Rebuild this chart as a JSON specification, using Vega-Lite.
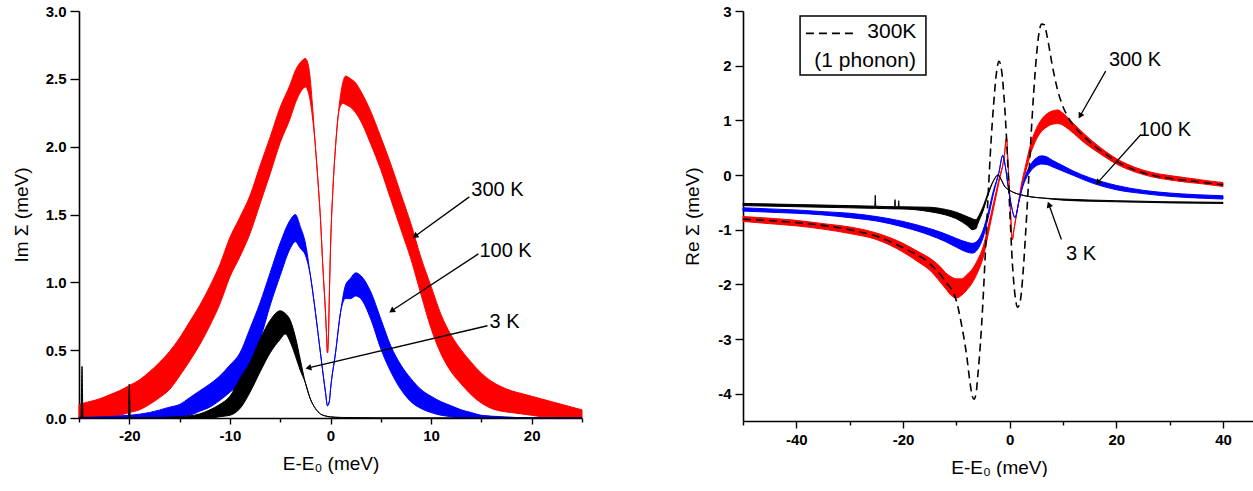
{
  "$schema": "https://vega.github.io/schema/vega-lite/v6.json",
  "padding": {"left": 12, "top": 4, "right": 0, "bottom": 0},
  "background": "white",
  "spacing": 99,
  "config": {
    "locale": {"number": {"decimal": ".", "thousands": ",", "grouping": [3], "currency": ["$", ""], "minus": "-"}},
    "view": {"stroke": null},
    "font": "Liberation Sans",
    "axis": {
      "grid": false, "domainColor": "#000", "domainWidth": 1.6, "tickColor": "#000", "tickWidth": 1.4,
      "labelFont": "Liberation Sans", "labelFontSize": 15, "labelFontWeight": "bold", "labelColor": "#000",
      "titleFont": "Liberation Sans", "titleFontSize": 19, "titleFontWeight": "normal", "titleColor": "#000"
    },
    "axisX": {"labelPadding": 4, "titlePadding": 11},
    "axisY": {"labelPadding": 4}
  },
  "datasets": {
    "im300": [
      {"E": -25, "v": 0.03, "lo": 0, "hi": 0.1}, {"E": -24, "v": 0.04, "lo": 0, "hi": 0.12},
      {"E": -23, "v": 0.05, "lo": 0.01, "hi": 0.14}, {"E": -22, "v": 0.07, "lo": 0.01, "hi": 0.17},
      {"E": -21, "v": 0.09, "lo": 0.02, "hi": 0.2}, {"E": -20, "v": 0.12, "lo": 0.04, "hi": 0.24},
      {"E": -19, "v": 0.16, "lo": 0.06, "hi": 0.28}, {"E": -18, "v": 0.21, "lo": 0.1, "hi": 0.34},
      {"E": -17, "v": 0.27, "lo": 0.15, "hi": 0.41}, {"E": -16, "v": 0.35, "lo": 0.21, "hi": 0.49},
      {"E": -15, "v": 0.45, "lo": 0.31, "hi": 0.59}, {"E": -14, "v": 0.56, "lo": 0.42, "hi": 0.71},
      {"E": -13, "v": 0.68, "lo": 0.54, "hi": 0.83}, {"E": -12, "v": 0.82, "lo": 0.68, "hi": 0.97},
      {"E": -11, "v": 0.98, "lo": 0.84, "hi": 1.13}, {"E": -10, "v": 1.18, "lo": 1.04, "hi": 1.33},
      {"E": -9, "v": 1.34, "lo": 1.19, "hi": 1.48}, {"E": -8, "v": 1.5, "lo": 1.36, "hi": 1.64},
      {"E": -7, "v": 1.72, "lo": 1.58, "hi": 1.86}, {"E": -6, "v": 1.93, "lo": 1.8, "hi": 2.07},
      {"E": -5, "v": 2.16, "lo": 2.03, "hi": 2.29}, {"E": -4, "v": 2.34, "lo": 2.21, "hi": 2.46},
      {"E": -3.5, "v": 2.44, "lo": 2.32, "hi": 2.56}, {"E": -3, "v": 2.51, "lo": 2.4, "hi": 2.62},
      {"E": -2.5, "v": 2.54, "lo": 2.44, "hi": 2.65}, {"E": -2.2, "v": 2.49, "lo": 2.4, "hi": 2.6},
      {"E": -2, "v": 2.4, "lo": 2.33, "hi": 2.49}, {"E": -1.75, "v": 2.22, "lo": 2.19, "hi": 2.26},
      {"E": -1.5, "v": 2.0, "lo": 2.0, "hi": 2.0}, {"E": -1.25, "v": 1.75, "lo": 1.75, "hi": 1.75},
      {"E": -1, "v": 1.47, "lo": 1.47, "hi": 1.47}, {"E": -0.75, "v": 1.1, "lo": 1.1, "hi": 1.1},
      {"E": -0.5, "v": 0.78, "lo": 0.78, "hi": 0.78}, {"E": -0.4, "v": 0.62, "lo": 0.62, "hi": 0.62},
      {"E": -0.3, "v": 0.48, "lo": 0.48, "hi": 0.48}, {"E": -0.2, "v": 0.62, "lo": 0.62, "hi": 0.62},
      {"E": -0.1, "v": 0.95, "lo": 0.95, "hi": 0.95}, {"E": 0, "v": 1.25, "lo": 1.25, "hi": 1.25},
      {"E": 0.25, "v": 1.7, "lo": 1.7, "hi": 1.7}, {"E": 0.5, "v": 2.0, "lo": 2.0, "hi": 2.0},
      {"E": 0.75, "v": 2.22, "lo": 2.22, "hi": 2.22}, {"E": 1, "v": 2.34, "lo": 2.3, "hi": 2.38},
      {"E": 1.25, "v": 2.4, "lo": 2.32, "hi": 2.48}, {"E": 1.5, "v": 2.42, "lo": 2.31, "hi": 2.52},
      {"E": 2, "v": 2.4, "lo": 2.29, "hi": 2.5}, {"E": 2.5, "v": 2.36, "lo": 2.25, "hi": 2.47},
      {"E": 3, "v": 2.3, "lo": 2.19, "hi": 2.41}, {"E": 4, "v": 2.14, "lo": 2.02, "hi": 2.26},
      {"E": 5, "v": 1.95, "lo": 1.83, "hi": 2.07}, {"E": 6, "v": 1.74, "lo": 1.61, "hi": 1.87},
      {"E": 7, "v": 1.52, "lo": 1.39, "hi": 1.65}, {"E": 8, "v": 1.3, "lo": 1.17, "hi": 1.43},
      {"E": 9, "v": 1.05, "lo": 0.91, "hi": 1.18}, {"E": 10, "v": 0.82, "lo": 0.66, "hi": 0.97},
      {"E": 11, "v": 0.62, "lo": 0.47, "hi": 0.76}, {"E": 12, "v": 0.47, "lo": 0.34, "hi": 0.61},
      {"E": 13, "v": 0.36, "lo": 0.25, "hi": 0.5}, {"E": 14, "v": 0.28, "lo": 0.17, "hi": 0.41},
      {"E": 15, "v": 0.21, "lo": 0.11, "hi": 0.33}, {"E": 16, "v": 0.16, "lo": 0.07, "hi": 0.27},
      {"E": 17, "v": 0.13, "lo": 0.05, "hi": 0.23}, {"E": 18, "v": 0.11, "lo": 0.04, "hi": 0.2},
      {"E": 19, "v": 0.09, "lo": 0.03, "hi": 0.18}, {"E": 20, "v": 0.07, "lo": 0.02, "hi": 0.16},
      {"E": 21, "v": 0.06, "lo": 0.01, "hi": 0.14}, {"E": 22, "v": 0.05, "lo": 0.01, "hi": 0.12},
      {"E": 23, "v": 0.04, "lo": 0, "hi": 0.1}, {"E": 24, "v": 0.03, "lo": 0, "hi": 0.08},
      {"E": 25, "v": 0.02, "lo": 0, "hi": 0.06}
    ],
    "im100": [
      {"E": -25, "v": 0, "lo": 0, "hi": 0.005}, {"E": -20, "v": 0.005, "lo": 0, "hi": 0.02},
      {"E": -18, "v": 0.01, "lo": 0, "hi": 0.04}, {"E": -16, "v": 0.03, "lo": 0, "hi": 0.08},
      {"E": -15, "v": 0.05, "lo": 0.01, "hi": 0.1}, {"E": -14, "v": 0.08, "lo": 0.02, "hi": 0.15},
      {"E": -13, "v": 0.12, "lo": 0.05, "hi": 0.2}, {"E": -12, "v": 0.16, "lo": 0.08, "hi": 0.25},
      {"E": -11, "v": 0.22, "lo": 0.13, "hi": 0.31}, {"E": -10, "v": 0.29, "lo": 0.19, "hi": 0.39},
      {"E": -9, "v": 0.37, "lo": 0.26, "hi": 0.48}, {"E": -8, "v": 0.53, "lo": 0.41, "hi": 0.66},
      {"E": -7, "v": 0.72, "lo": 0.58, "hi": 0.85}, {"E": -6, "v": 0.95, "lo": 0.83, "hi": 1.07},
      {"E": -5, "v": 1.17, "lo": 1.05, "hi": 1.29}, {"E": -4, "v": 1.36, "lo": 1.25, "hi": 1.46},
      {"E": -3.5, "v": 1.4, "lo": 1.3, "hi": 1.5}, {"E": -3, "v": 1.33, "lo": 1.25, "hi": 1.41},
      {"E": -2.5, "v": 1.24, "lo": 1.2, "hi": 1.29}, {"E": -2, "v": 1.05, "lo": 1.05, "hi": 1.05},
      {"E": -1.5, "v": 0.78, "lo": 0.78, "hi": 0.78}, {"E": -1, "v": 0.48, "lo": 0.48, "hi": 0.48},
      {"E": -0.5, "v": 0.19, "lo": 0.19, "hi": 0.19}, {"E": -0.3, "v": 0.09, "lo": 0.09, "hi": 0.09},
      {"E": -0.1, "v": 0.13, "lo": 0.13, "hi": 0.13}, {"E": 0, "v": 0.21, "lo": 0.21, "hi": 0.21},
      {"E": 0.5, "v": 0.48, "lo": 0.48, "hi": 0.48}, {"E": 1, "v": 0.78, "lo": 0.78, "hi": 0.78},
      {"E": 1.5, "v": 0.93, "lo": 0.88, "hi": 0.98}, {"E": 2, "v": 0.96, "lo": 0.88, "hi": 1.03},
      {"E": 2.5, "v": 0.99, "lo": 0.9, "hi": 1.07}, {"E": 3, "v": 0.96, "lo": 0.88, "hi": 1.05},
      {"E": 4, "v": 0.83, "lo": 0.73, "hi": 0.93}, {"E": 5, "v": 0.62, "lo": 0.51, "hi": 0.73},
      {"E": 6, "v": 0.44, "lo": 0.34, "hi": 0.53}, {"E": 7, "v": 0.3, "lo": 0.21, "hi": 0.39},
      {"E": 8, "v": 0.2, "lo": 0.12, "hi": 0.29}, {"E": 9, "v": 0.14, "lo": 0.07, "hi": 0.21},
      {"E": 10, "v": 0.1, "lo": 0.04, "hi": 0.16}, {"E": 11, "v": 0.07, "lo": 0.02, "hi": 0.12},
      {"E": 12, "v": 0.05, "lo": 0.01, "hi": 0.09}, {"E": 13, "v": 0.03, "lo": 0, "hi": 0.06},
      {"E": 14, "v": 0.02, "lo": 0, "hi": 0.04}, {"E": 15, "v": 0.01, "lo": 0, "hi": 0.02},
      {"E": 17, "v": 0.003, "lo": 0, "hi": 0.01}, {"E": 20, "v": 0, "lo": 0, "hi": 0},
      {"E": 25, "v": 0, "lo": 0, "hi": 0}
    ],
    "im3": [
      {"E": -25, "v": 0, "lo": 0, "hi": 0}, {"E": -24.8, "v": 0, "lo": 0, "hi": 0},
      {"E": -24.7, "v": 0, "lo": 0, "hi": 0.38}, {"E": -24.6, "v": 0, "lo": 0, "hi": 0},
      {"E": -20.1, "v": 0, "lo": 0, "hi": 0}, {"E": -20, "v": 0, "lo": 0, "hi": 0.25},
      {"E": -19.9, "v": 0, "lo": 0, "hi": 0}, {"E": -15, "v": 0, "lo": 0, "hi": 0.01},
      {"E": -13, "v": 0.01, "lo": 0, "hi": 0.03}, {"E": -12, "v": 0.03, "lo": 0, "hi": 0.06},
      {"E": -11, "v": 0.05, "lo": 0.01, "hi": 0.1}, {"E": -10, "v": 0.09, "lo": 0.02, "hi": 0.16},
      {"E": -9, "v": 0.18, "lo": 0.07, "hi": 0.29}, {"E": -8, "v": 0.3, "lo": 0.19, "hi": 0.41},
      {"E": -7, "v": 0.46, "lo": 0.34, "hi": 0.58}, {"E": -6, "v": 0.6, "lo": 0.48, "hi": 0.72},
      {"E": -5, "v": 0.69, "lo": 0.58, "hi": 0.79}, {"E": -4.5, "v": 0.7, "lo": 0.62, "hi": 0.77},
      {"E": -4, "v": 0.65, "lo": 0.56, "hi": 0.72}, {"E": -3.5, "v": 0.54, "lo": 0.46, "hi": 0.6},
      {"E": -3, "v": 0.39, "lo": 0.35, "hi": 0.43}, {"E": -2.5, "v": 0.26, "lo": 0.26, "hi": 0.26},
      {"E": -2, "v": 0.14, "lo": 0.14, "hi": 0.14}, {"E": -1.5, "v": 0.07, "lo": 0.07, "hi": 0.07},
      {"E": -1, "v": 0.03, "lo": 0.03, "hi": 0.03}, {"E": -0.5, "v": 0.015, "lo": 0.015, "hi": 0.015},
      {"E": 0, "v": 0.008, "lo": 0.008, "hi": 0.008}, {"E": 1, "v": 0.004, "lo": 0.004, "hi": 0.004},
      {"E": 3, "v": 0.002, "lo": 0.002, "hi": 0.002}, {"E": 5, "v": 0, "lo": 0, "hi": 0},
      {"E": 25, "v": 0, "lo": 0, "hi": 0}
    ],
    "imNotes": [
      {"label": "300 K", "E": 16.6, "v": 1.68},
      {"label": "100 K", "E": 17.4, "v": 1.23},
      {"label": "3 K", "E": 17.3, "v": 0.71}
    ],
    "imArrows": [
      {"label": "300 K", "E": 13.8, "v": 1.63, "E2": 8.4, "v2": 1.34},
      {"label": "100 K", "E": 14.7, "v": 1.21, "E2": 6.08, "v2": 0.79},
      {"label": "3 K", "E": 15.6, "v": 0.68, "E2": -2.2, "v2": 0.37}
    ],
    "re300": [
      {"E": -50, "v": -0.81, "lo": -0.85, "hi": -0.76}, {"E": -45, "v": -0.84, "lo": -0.89, "hi": -0.79},
      {"E": -40, "v": -0.88, "lo": -0.93, "hi": -0.83}, {"E": -35, "v": -0.94, "lo": -0.99, "hi": -0.89},
      {"E": -30, "v": -1.01, "lo": -1.07, "hi": -0.95}, {"E": -25, "v": -1.12, "lo": -1.18, "hi": -1.06},
      {"E": -20, "v": -1.33, "lo": -1.41, "hi": -1.25}, {"E": -17, "v": -1.5, "lo": -1.6, "hi": -1.41},
      {"E": -15, "v": -1.63, "lo": -1.74, "hi": -1.52}, {"E": -13, "v": -1.82, "lo": -1.96, "hi": -1.68},
      {"E": -12, "v": -1.93, "lo": -2.08, "hi": -1.79}, {"E": -11, "v": -2.02, "lo": -2.2, "hi": -1.86},
      {"E": -10, "v": -2.06, "lo": -2.25, "hi": -1.9}, {"E": -9, "v": -2.04, "lo": -2.2, "hi": -1.9},
      {"E": -8, "v": -1.96, "lo": -2.1, "hi": -1.82}, {"E": -7, "v": -1.84, "lo": -1.97, "hi": -1.72},
      {"E": -6, "v": -1.66, "lo": -1.78, "hi": -1.55}, {"E": -5, "v": -1.42, "lo": -1.52, "hi": -1.32},
      {"E": -4, "v": -1.0, "lo": -1.07, "hi": -0.93}, {"E": -3, "v": -0.55, "lo": -0.6, "hi": -0.5},
      {"E": -2, "v": -0.1, "lo": -0.13, "hi": -0.07}, {"E": -1, "v": 0.35, "lo": 0.35, "hi": 0.35},
      {"E": -0.6, "v": 0.68, "lo": 0.68, "hi": 0.68}, {"E": -0.3, "v": 0.2, "lo": 0.2, "hi": 0.2},
      {"E": 0, "v": -0.35, "lo": -0.35, "hi": -0.35}, {"E": 0.25, "v": -0.85, "lo": -0.85, "hi": -0.85},
      {"E": 0.5, "v": -1.18, "lo": -1.18, "hi": -1.18}, {"E": 0.8, "v": -1.0, "lo": -1.0, "hi": -1.0},
      {"E": 1.5, "v": -0.6, "lo": -0.6, "hi": -0.6}, {"E": 2.2, "v": -0.2, "lo": -0.23, "hi": -0.17},
      {"E": 3, "v": 0.12, "lo": 0.06, "hi": 0.18}, {"E": 4, "v": 0.5, "lo": 0.41, "hi": 0.59},
      {"E": 5, "v": 0.75, "lo": 0.65, "hi": 0.85}, {"E": 6, "v": 0.91, "lo": 0.8, "hi": 1.02},
      {"E": 7, "v": 1.0, "lo": 0.88, "hi": 1.12}, {"E": 8, "v": 1.05, "lo": 0.93, "hi": 1.17},
      {"E": 9, "v": 1.06, "lo": 0.94, "hi": 1.19}, {"E": 10, "v": 1.02, "lo": 0.91, "hi": 1.13},
      {"E": 11, "v": 0.94, "lo": 0.84, "hi": 1.04}, {"E": 12, "v": 0.85, "lo": 0.76, "hi": 0.94},
      {"E": 14, "v": 0.67, "lo": 0.59, "hi": 0.75}, {"E": 16, "v": 0.51, "lo": 0.45, "hi": 0.58},
      {"E": 18, "v": 0.37, "lo": 0.32, "hi": 0.43}, {"E": 20, "v": 0.25, "lo": 0.2, "hi": 0.3},
      {"E": 22, "v": 0.15, "lo": 0.11, "hi": 0.2}, {"E": 25, "v": 0.05, "lo": 0.01, "hi": 0.09},
      {"E": 28, "v": -0.02, "lo": -0.06, "hi": 0.02}, {"E": 30, "v": -0.05, "lo": -0.09, "hi": -0.01},
      {"E": 33, "v": -0.09, "lo": -0.13, "hi": -0.05}, {"E": 36, "v": -0.13, "lo": -0.16, "hi": -0.09},
      {"E": 40, "v": -0.18, "lo": -0.21, "hi": -0.14}
    ],
    "re100": [
      {"E": -50, "v": -0.63, "lo": -0.66, "hi": -0.6}, {"E": -45, "v": -0.65, "lo": -0.68, "hi": -0.62},
      {"E": -40, "v": -0.67, "lo": -0.7, "hi": -0.64}, {"E": -35, "v": -0.7, "lo": -0.73, "hi": -0.67},
      {"E": -30, "v": -0.74, "lo": -0.78, "hi": -0.7}, {"E": -25, "v": -0.8, "lo": -0.84, "hi": -0.76},
      {"E": -20, "v": -0.9, "lo": -0.95, "hi": -0.85}, {"E": -15, "v": -1.04, "lo": -1.1, "hi": -0.98},
      {"E": -12, "v": -1.15, "lo": -1.22, "hi": -1.08}, {"E": -10, "v": -1.24, "lo": -1.32, "hi": -1.16},
      {"E": -8, "v": -1.32, "lo": -1.41, "hi": -1.23}, {"E": -7, "v": -1.34, "lo": -1.43, "hi": -1.25},
      {"E": -6, "v": -1.28, "lo": -1.36, "hi": -1.2}, {"E": -5, "v": -1.08, "lo": -1.15, "hi": -1.01},
      {"E": -4, "v": -0.72, "lo": -0.77, "hi": -0.67}, {"E": -3, "v": -0.3, "lo": -0.33, "hi": -0.27},
      {"E": -2, "v": 0.05, "lo": 0.05, "hi": 0.05}, {"E": -1.3, "v": 0.36, "lo": 0.36, "hi": 0.36},
      {"E": -0.8, "v": 0.15, "lo": 0.15, "hi": 0.15}, {"E": -0.3, "v": -0.2, "lo": -0.2, "hi": -0.2},
      {"E": 0.3, "v": -0.55, "lo": -0.55, "hi": -0.55}, {"E": 1, "v": -0.78, "lo": -0.78, "hi": -0.78},
      {"E": 1.7, "v": -0.5, "lo": -0.5, "hi": -0.5}, {"E": 2.5, "v": -0.18, "lo": -0.2, "hi": -0.16},
      {"E": 3, "v": -0.04, "lo": -0.08, "hi": 0}, {"E": 4, "v": 0.14, "lo": 0.08, "hi": 0.2},
      {"E": 5, "v": 0.24, "lo": 0.17, "hi": 0.31}, {"E": 6, "v": 0.28, "lo": 0.2, "hi": 0.35},
      {"E": 7, "v": 0.26, "lo": 0.19, "hi": 0.33}, {"E": 8, "v": 0.21, "lo": 0.15, "hi": 0.27},
      {"E": 10, "v": 0.12, "lo": 0.07, "hi": 0.17}, {"E": 12, "v": 0.03, "lo": -0.01, "hi": 0.07},
      {"E": 15, "v": -0.09, "lo": -0.13, "hi": -0.05}, {"E": 20, "v": -0.23, "lo": -0.27, "hi": -0.19},
      {"E": 25, "v": -0.31, "lo": -0.34, "hi": -0.28}, {"E": 30, "v": -0.36, "lo": -0.39, "hi": -0.33},
      {"E": 35, "v": -0.39, "lo": -0.42, "hi": -0.36}, {"E": 40, "v": -0.41, "lo": -0.44, "hi": -0.38}
    ],
    "re3": [
      {"E": -50, "v": -0.54, "lo": -0.56, "hi": -0.52}, {"E": -40, "v": -0.56, "lo": -0.58, "hi": -0.54},
      {"E": -30, "v": -0.58, "lo": -0.6, "hi": -0.56}, {"E": -25.3, "v": -0.59, "lo": -0.61, "hi": -0.57},
      {"E": -25.2, "v": -0.59, "lo": -0.61, "hi": -0.37}, {"E": -25.1, "v": -0.59, "lo": -0.61, "hi": -0.57},
      {"E": -21.6, "v": -0.6, "lo": -0.62, "hi": -0.58}, {"E": -21.5, "v": -0.6, "lo": -0.62, "hi": -0.45},
      {"E": -21.4, "v": -0.6, "lo": -0.62, "hi": -0.58}, {"E": -20.9, "v": -0.6, "lo": -0.62, "hi": -0.58},
      {"E": -20.8, "v": -0.6, "lo": -0.62, "hi": -0.47}, {"E": -20.7, "v": -0.6, "lo": -0.62, "hi": -0.58},
      {"E": -15, "v": -0.63, "lo": -0.67, "hi": -0.59}, {"E": -12, "v": -0.68, "lo": -0.73, "hi": -0.63},
      {"E": -10, "v": -0.74, "lo": -0.8, "hi": -0.68}, {"E": -8, "v": -0.84, "lo": -0.92, "hi": -0.76},
      {"E": -7, "v": -0.9, "lo": -1.0, "hi": -0.8}, {"E": -6.3, "v": -0.9, "lo": -0.98, "hi": -0.82},
      {"E": -6, "v": -0.84, "lo": -0.9, "hi": -0.78}, {"E": -5, "v": -0.62, "lo": -0.66, "hi": -0.58},
      {"E": -4, "v": -0.33, "lo": -0.35, "hi": -0.31}, {"E": -3, "v": -0.1, "lo": -0.1, "hi": -0.1},
      {"E": -2.2, "v": 0.0, "lo": 0.0, "hi": 0.0}, {"E": -1.5, "v": -0.1, "lo": -0.1, "hi": -0.1},
      {"E": -1, "v": -0.2, "lo": -0.2, "hi": -0.2}, {"E": 0, "v": -0.28, "lo": -0.28, "hi": -0.28},
      {"E": 1, "v": -0.33, "lo": -0.33, "hi": -0.33}, {"E": 2, "v": -0.36, "lo": -0.36, "hi": -0.36},
      {"E": 4, "v": -0.4, "lo": -0.4, "hi": -0.4}, {"E": 6, "v": -0.42, "lo": -0.42, "hi": -0.42},
      {"E": 10, "v": -0.45, "lo": -0.46, "hi": -0.44}, {"E": 20, "v": -0.48, "lo": -0.49, "hi": -0.47},
      {"E": 30, "v": -0.5, "lo": -0.51, "hi": -0.49}, {"E": 40, "v": -0.51, "lo": -0.52, "hi": -0.5}
    ],
    "rePhonon": [
      {"E": -50, "v": -0.81}, {"E": -40, "v": -0.87}, {"E": -30, "v": -1.0}, {"E": -25, "v": -1.12},
      {"E": -20, "v": -1.33}, {"E": -15, "v": -1.62}, {"E": -12, "v": -1.95}, {"E": -10, "v": -2.3},
      {"E": -9, "v": -2.75}, {"E": -8, "v": -3.35}, {"E": -7.5, "v": -3.75}, {"E": -7, "v": -4.05},
      {"E": -6.7, "v": -4.1}, {"E": -6.3, "v": -4.0}, {"E": -6, "v": -3.7}, {"E": -5.5, "v": -3.1},
      {"E": -5, "v": -2.3}, {"E": -4.5, "v": -1.3}, {"E": -4, "v": -0.3}, {"E": -3.5, "v": 0.6},
      {"E": -3, "v": 1.3}, {"E": -2.5, "v": 1.85}, {"E": -2, "v": 2.08}, {"E": -1.5, "v": 1.9},
      {"E": -1, "v": 1.35}, {"E": -0.5, "v": 0.5}, {"E": 0, "v": -0.6}, {"E": 0.5, "v": -1.6},
      {"E": 1, "v": -2.2}, {"E": 1.5, "v": -2.42}, {"E": 2, "v": -2.3}, {"E": 2.5, "v": -1.8},
      {"E": 3, "v": -1.05}, {"E": 3.5, "v": -0.2}, {"E": 4, "v": 0.7}, {"E": 4.5, "v": 1.5},
      {"E": 5, "v": 2.15}, {"E": 5.5, "v": 2.6}, {"E": 6, "v": 2.76}, {"E": 6.5, "v": 2.75},
      {"E": 7, "v": 2.55}, {"E": 8, "v": 2.0}, {"E": 9, "v": 1.55}, {"E": 10, "v": 1.25},
      {"E": 11, "v": 1.05}, {"E": 12, "v": 0.9}, {"E": 14, "v": 0.7}, {"E": 16, "v": 0.52},
      {"E": 18, "v": 0.38}, {"E": 20, "v": 0.25}, {"E": 22, "v": 0.15}, {"E": 25, "v": 0.04},
      {"E": 30, "v": -0.06}, {"E": 35, "v": -0.12}, {"E": 40, "v": -0.18}
    ],
    "reNotes": [
      {"label": "300 K", "E": 23.5, "v": 2.1},
      {"label": "100 K", "E": 29.1, "v": 0.82},
      {"label": "3 K", "E": 13.4, "v": -1.44}
    ],
    "reArrows": [
      {"label": "300 K", "E": 18.0, "v": 1.9, "E2": 13.2, "v2": 1.08},
      {"label": "100 K", "E": 24.6, "v": 0.74, "E2": 16.5, "v2": -0.14},
      {"label": "3 K", "E": 9.7, "v": -1.18, "E2": 7.35, "v2": -0.54}
    ],
    "reLegendBox": [{"E": -39.3, "E2": -15.7, "v": 1.83, "v2": 2.91}],
    "reLegendLine": [{"E": -38.2, "E2": -28.6, "v": 2.59}],
    "reLegendText": [
      {"label": "300K", "E": -22.1, "v": 2.62},
      {"label": "(1 phonon)", "E": -27.1, "v": 2.09}
    ]
  },
  "hconcat": [
    {
      "width": 503,
      "height": 407,
      "layer": [
        {
          "data": {"name": "im300"},
          "mark": {"type": "area", "fill": "#ff0000", "stroke": "#ff0000", "strokeWidth": 1, "opacity": 1, "interpolate": "monotone"},
          "encoding": {
            "x": {"field": "E", "type": "quantitative", "scale": {"domain": [-25, 25], "nice": false, "zero": false},
              "axis": {"title": "E-E₀ (meV)", "values": [-25, -20, -15, -10, -5, 0, 5, 10, 15, 20, 25],
                "labelExpr": "datum.value % 10 === 0 ? '' + datum.value : ''", "labelFlush": false, "labelOverlap": false,
                "tickSize": {"condition": {"test": "datum.value % 10 === 0", "value": 6}, "value": 4}}},
            "y": {"field": "lo", "type": "quantitative", "stack": null, "scale": {"domain": [0, 3], "nice": false, "zero": false},
              "axis": {"title": "Im Σ (meV)", "values": [0, 0.25, 0.5, 0.75, 1, 1.25, 1.5, 1.75, 2, 2.25, 2.5, 2.75, 3],
                "labelExpr": "(datum.value * 2) % 1 === 0 ? format(datum.value, '.1f') : ''", "labelOverlap": false,
                "tickSize": {"condition": {"test": "(datum.value * 2) % 1 === 0", "value": 9}, "value": 5},
                "minExtent": 34, "maxExtent": 34, "titlePadding": 14}},
            "y2": {"field": "hi"}
          }
        },
        {
          "data": {"name": "im100"},
          "mark": {"type": "area", "fill": "#0000ff", "stroke": "#0000ff", "strokeWidth": 1, "opacity": 1, "interpolate": "monotone"},
          "encoding": {
            "x": {"field": "E", "type": "quantitative"},
            "y": {"field": "lo", "type": "quantitative", "stack": null},
            "y2": {"field": "hi"}
          }
        },
        {
          "data": {"name": "im3"},
          "mark": {"type": "area", "fill": "#000000", "stroke": "#000000", "strokeWidth": 1, "opacity": 1, "interpolate": "monotone"},
          "encoding": {
            "x": {"field": "E", "type": "quantitative"},
            "y": {"field": "lo", "type": "quantitative", "stack": null},
            "y2": {"field": "hi"}
          }
        },
        {
          "data": {"name": "imArrows"},
          "mark": {"type": "rule", "color": "#000", "strokeWidth": 1.3},
          "encoding": {
            "x": {"field": "E", "type": "quantitative"},
            "y": {"field": "v", "type": "quantitative"},
            "x2": {"field": "E2"},
            "y2": {"field": "v2"}
          }
        },
        {
          "data": {"name": "imArrows"},
          "transform": [{"filter": "datum.label === '300 K'"}],
          "mark": {"type": "point", "shape": "triangle-up", "filled": true, "color": "#000", "opacity": 1, "size": 45, "angle": 234},
          "encoding": {"x": {"field": "E2", "type": "quantitative"}, "y": {"field": "v2", "type": "quantitative"}}
        },
        {
          "data": {"name": "imArrows"},
          "transform": [{"filter": "datum.label === '100 K'"}],
          "mark": {"type": "point", "shape": "triangle-up", "filled": true, "color": "#000", "opacity": 1, "size": 45, "angle": 236},
          "encoding": {"x": {"field": "E2", "type": "quantitative"}, "y": {"field": "v2", "type": "quantitative"}}
        },
        {
          "data": {"name": "imArrows"},
          "transform": [{"filter": "datum.label === '3 K'"}],
          "mark": {"type": "point", "shape": "triangle-up", "filled": true, "color": "#000", "opacity": 1, "size": 45, "angle": 257},
          "encoding": {"x": {"field": "E2", "type": "quantitative"}, "y": {"field": "v2", "type": "quantitative"}}
        },
        {
          "data": {"name": "imNotes"},
          "mark": {"type": "text", "fontSize": 20, "font": "Liberation Sans", "color": "#000", "align": "center", "baseline": "middle"},
          "encoding": {
            "x": {"field": "E", "type": "quantitative"},
            "y": {"field": "v", "type": "quantitative"},
            "text": {"field": "label"}
          }
        }
      ]
    },
    {
      "width": 512,
      "height": 410,
      "layer": [
        {
          "data": {"name": "re300"},
          "mark": {"type": "area", "fill": "#ff0000", "stroke": "#ff0000", "strokeWidth": 1, "opacity": 1, "interpolate": "monotone"},
          "encoding": {
            "x": {"field": "E", "type": "quantitative", "scale": {"domain": [-50, 46], "nice": false, "zero": false},
              "axis": {"title": "E-E₀ (meV)", "values": [-50, -40, -30, -20, -10, 0, 10, 20, 30, 40],
                "labelExpr": "datum.value % 20 === 0 ? '' + datum.value : ''", "labelFlush": false, "labelOverlap": false,
                "tickSize": {"condition": {"test": "datum.value % 20 === 0", "value": 7}, "value": 4}}},
            "y": {"field": "lo", "type": "quantitative", "stack": null, "scale": {"domain": [-4.5, 3], "nice": false, "zero": false},
              "axis": {"title": "Re Σ (meV)", "tickCount": 8, "format": "d", "tickSize": 8, "minExtent": 26, "titlePadding": 15}},
            "y2": {"field": "hi"}
          }
        },
        {
          "data": {"name": "re100"},
          "mark": {"type": "area", "fill": "#0000ff", "stroke": "#0000ff", "strokeWidth": 1, "opacity": 1, "interpolate": "monotone"},
          "encoding": {
            "x": {"field": "E", "type": "quantitative"},
            "y": {"field": "lo", "type": "quantitative", "stack": null},
            "y2": {"field": "hi"}
          }
        },
        {
          "data": {"name": "re3"},
          "mark": {"type": "area", "fill": "#000000", "stroke": "#000000", "strokeWidth": 1, "opacity": 1, "interpolate": "monotone"},
          "encoding": {
            "x": {"field": "E", "type": "quantitative"},
            "y": {"field": "lo", "type": "quantitative", "stack": null},
            "y2": {"field": "hi"}
          }
        },
        {
          "data": {"name": "rePhonon"},
          "mark": {"type": "line", "color": "#000", "strokeWidth": 1.6, "strokeDash": [8, 5], "interpolate": "monotone"},
          "encoding": {
            "x": {"field": "E", "type": "quantitative"},
            "y": {"field": "v", "type": "quantitative"}
          }
        },
        {
          "data": {"name": "reLegendBox"},
          "mark": {"type": "rect", "fill": "white", "stroke": "#000", "strokeWidth": 1.5},
          "encoding": {
            "x": {"field": "E", "type": "quantitative"},
            "x2": {"field": "E2"},
            "y": {"field": "v", "type": "quantitative"},
            "y2": {"field": "v2"}
          }
        },
        {
          "data": {"name": "reLegendLine"},
          "mark": {"type": "rule", "color": "#000", "strokeWidth": 1.6, "strokeDash": [8, 5]},
          "encoding": {
            "x": {"field": "E", "type": "quantitative"},
            "x2": {"field": "E2"},
            "y": {"field": "v", "type": "quantitative"}
          }
        },
        {
          "data": {"name": "reLegendText"},
          "mark": {"type": "text", "fontSize": 21, "font": "Liberation Sans", "color": "#000", "align": "center", "baseline": "middle"},
          "encoding": {
            "x": {"field": "E", "type": "quantitative"},
            "y": {"field": "v", "type": "quantitative"},
            "text": {"field": "label"}
          }
        },
        {
          "data": {"name": "reArrows"},
          "mark": {"type": "rule", "color": "#000", "strokeWidth": 1.3},
          "encoding": {
            "x": {"field": "E", "type": "quantitative"},
            "y": {"field": "v", "type": "quantitative"},
            "x2": {"field": "E2"},
            "y2": {"field": "v2"}
          }
        },
        {
          "data": {"name": "reArrows"},
          "transform": [{"filter": "datum.label === '300 K'"}],
          "mark": {"type": "point", "shape": "triangle-up", "filled": true, "color": "#000", "opacity": 1, "size": 45, "angle": 210},
          "encoding": {"x": {"field": "E2", "type": "quantitative"}, "y": {"field": "v2", "type": "quantitative"}}
        },
        {
          "data": {"name": "reArrows"},
          "transform": [{"filter": "datum.label === '100 K'"}],
          "mark": {"type": "point", "shape": "triangle-up", "filled": true, "color": "#000", "opacity": 1, "size": 45, "angle": 222},
          "encoding": {"x": {"field": "E2", "type": "quantitative"}, "y": {"field": "v2", "type": "quantitative"}}
        },
        {
          "data": {"name": "reArrows"},
          "transform": [{"filter": "datum.label === '3 K'"}],
          "mark": {"type": "point", "shape": "triangle-up", "filled": true, "color": "#000", "opacity": 1, "size": 45, "angle": 340},
          "encoding": {"x": {"field": "E2", "type": "quantitative"}, "y": {"field": "v2", "type": "quantitative"}}
        },
        {
          "data": {"name": "reNotes"},
          "mark": {"type": "text", "fontSize": 20, "font": "Liberation Sans", "color": "#000", "align": "center", "baseline": "middle"},
          "encoding": {
            "x": {"field": "E", "type": "quantitative"},
            "y": {"field": "v", "type": "quantitative"},
            "text": {"field": "label"}
          }
        }
      ]
    }
  ]
}
